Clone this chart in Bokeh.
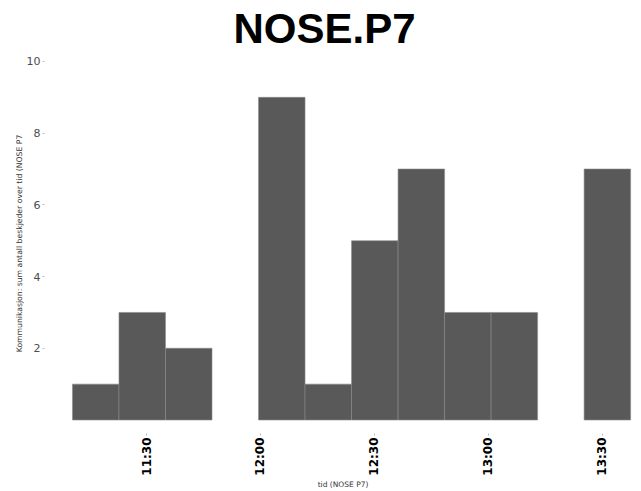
import math
import datetime as dt
from bokeh.plotting import figure
from bokeh.models import ColumnDataSource, FixedTicker, DatetimeTickFormatter, Range1d
from bokeh.embed import file_html
from bokeh.resources import INLINE

# ---- data ----
bin_starts = ["11:10:30", "11:22:45", "11:35:00", "11:47:15", "11:59:30", "12:11:45",
              "12:24:00", "12:36:15", "12:48:30", "13:00:45", "13:13:00", "13:25:15"]
bin_width_sec = 735  # ~12.25 minutes per bin
counts = [1, 3, 2, 0, 9, 1, 5, 7, 3, 3, 0, 7]
x_tick_labels = ["11:30", "12:00", "12:30", "13:00", "13:30"]
y_ticks = [2, 4, 6, 8, 10]

DAY = dt.date(2020, 1, 1)

def t(s):
    parts = [int(v) for v in s.split(":")]
    while len(parts) < 3:
        parts.append(0)
    return dt.datetime.combine(DAY, dt.time(*parts))

def ms(d):
    return (d - dt.datetime(1970, 1, 1)).total_seconds() * 1000.0

left, right, top = [], [], []
for s, c in zip(bin_starts, counts):
    if c > 0:
        st = t(s)
        left.append(st)
        right.append(st + dt.timedelta(seconds=bin_width_sec))
        top.append(c)

src = ColumnDataSource(dict(left=left, right=right, top=top, bottom=[0] * len(top)))

x0 = t("11:03:08")
x1 = t("13:40:22")

p = figure(width=641, height=491, x_axis_type="datetime",
           x_range=Range1d(x0, x1), y_range=Range1d(-0.377, 10.223),
           output_backend="svg", toolbar_location=None,
           min_border_left=44, min_border_right=0, min_border_top=0, min_border_bottom=0)

p.quad(left="left", right="right", top="top", bottom="bottom", source=src,
       fill_color="#595959", line_color="#8a8a8a", line_width=0.6)

p.title.text = "NOSE.P7"
p.title.text_font = "Liberation Sans"
p.title.text_font_size = "42px"
p.title.text_font_style = "bold"
p.title.text_color = "#000000"
p.title.align = "left"
p.title.offset = 189
p.title.standoff = 4

p.outline_line_color = None
p.xgrid.grid_line_color = None
p.ygrid.grid_line_color = None
p.background_fill_color = "white"
p.border_fill_color = "white"

# x axis
xa = p.xaxis[0]
xa.ticker = FixedTicker(ticks=[ms(t(s)) for s in x_tick_labels], minor_ticks=[])
fmt = "%H:%M"
xa.formatter = DatetimeTickFormatter(microseconds=fmt, milliseconds=fmt, seconds=fmt,
                                     minsec=fmt, minutes=fmt, hourmin=fmt, hours=fmt,
                                     days=fmt, months=fmt, years=fmt)
xa.major_label_orientation = math.pi / 2
xa.major_label_text_font = "DejaVu Sans"
xa.major_label_text_font_style = "bold"
xa.major_label_text_font_size = "12px"
xa.major_label_text_color = "#000000"
xa.major_label_standoff = 2
xa.axis_line_color = None
xa.major_tick_in = 0
xa.major_tick_out = 2
xa.major_tick_line_color = "#bbbbbb"
xa.minor_tick_line_color = None
xa.axis_label = "tid (NOSE P7)"
xa.axis_label_text_font = "DejaVu Sans"
xa.axis_label_text_font_size = "7.5px"
xa.axis_label_text_font_style = "normal"
xa.axis_label_text_color = "#333333"
xa.axis_label_standoff = 1

# y axis
ya = p.yaxis[0]
ya.ticker = FixedTicker(ticks=y_ticks, minor_ticks=[])
ya.major_label_text_font = "DejaVu Sans"
ya.major_label_text_font_size = "11px"
ya.major_label_text_color = "#4d4d4d"
ya.major_label_standoff = 2
ya.axis_line_color = None
ya.major_tick_in = 0
ya.major_tick_out = 2
ya.major_tick_line_color = "#bbbbbb"
ya.minor_tick_line_color = None
ya.axis_label = "Kommunikasjon: sum antall beskjeder over tid (NOSE P7"
ya.axis_label_text_font = "DejaVu Sans"
ya.axis_label_text_font_size = "7.7px"
ya.axis_label_text_font_style = "normal"
ya.axis_label_text_color = "#333333"
ya.axis_label_standoff = 0

open("out.html", "w").write(file_html(p, INLINE))
